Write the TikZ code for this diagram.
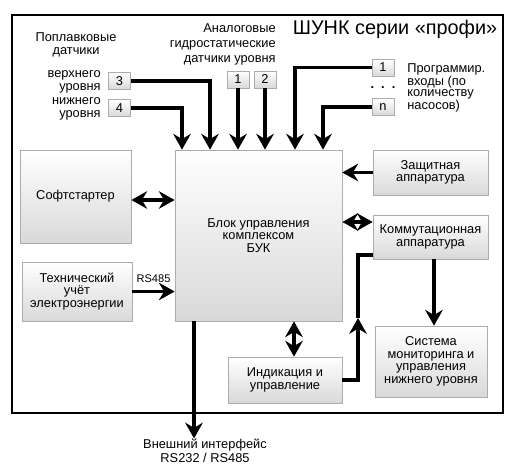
\documentclass[tikz,border=0pt]{standalone}
\usepackage{fontspec}
\setmainfont{Liberation Sans}
\usepackage{tikz}
\usetikzlibrary{arrows.meta, positioning}
\newcommand{\boxfont}{\fontsize{7.3}{7.2}\selectfont}
\newcommand{\lblfont}{\fontsize{7.3}{7.5}\selectfont}
\tikzset{
    block/.style={rectangle, draw=gray!65, top color=white, bottom color=gray!30, align=center, inner sep=1pt, font=\boxfont},
    numbox/.style={block, minimum width=0.44cm, minimum height=0.34cm},
    lbl/.style={align=center, inner sep=0pt, font=\lblfont},
    link/.style={line width=2pt},
    arrow/.style={link, -{Stealth[length=9pt,width=10pt,inset=3pt]}},
    twoway/.style={link, {Stealth[length=9pt,width=10pt,inset=3pt]}-{Stealth[length=9pt,width=10pt,inset=3pt]}}
}

\begin{document}
\begin{tikzpicture}[x=0.02cm, y=-0.02cm]
    \useasboundingbox (0,0) rectangle (514,473);
    \draw[line width=0.8pt] (12,15) rectangle (503,413);

    \node (title) [lbl, font=\fontsize{11.3}{11.3}\selectfont] at (395,29) {ШУНК серии «профи»};

    % blocks
    \node (buk) [block, minimum width=3.34cm, minimum height=3.42cm] at (258.5,235.5) {Блок управления\\комплексом\\БУК};
    \node (soft) [block, minimum width=2.22cm, minimum height=1.86cm] at (75.5,196.5) {Софтстартер};
    \node (uchet) [block, minimum width=2.2cm, minimum height=1.18cm] at (77,291.5) {Технический\\учёт\\электроэнергии};
    \node (zasch) [block, minimum width=2.3cm, minimum height=0.9cm] at (430.5,172.5) {Защитная\\аппаратура};
    \node (komm) [block, minimum width=2.3cm, minimum height=0.88cm] at (430.5,237) {Коммутационная\\аппаратура};
    \node (sist) [block, minimum width=2.24cm, minimum height=1.42cm] at (431,361.5) {Система\\мониторинга и\\управления\\нижнего уровня};
    \node (ind) [block, minimum width=2.28cm, minimum height=0.92cm] at (285,380) {Индикация и\\управление};

    % inputs
    \node (popl) [lbl] at (76,44.5) {Поплавковые\\датчики};
    \node (n3) [numbox] at (119.5,81) {3};
    \node (n4) [numbox] at (119.5,108) {4};
    \node (verh) [lbl, align=right, anchor=east] at (101,81.5) {верхнего\\уровня};
    \node (nizh) [lbl, align=right, anchor=east] at (101,108.5) {нижнего\\уровня};
    \node (analog) [lbl, align=right, anchor=east, font=\fontsize{7.3}{8.5}\selectfont] at (276,44.5) {Аналоговые\\гидростатические\\датчики уровня};
    \node (a1) [numbox] at (238,79.5) {1};
    \node (a2) [numbox] at (265,79.5) {2};
    \node (p1) [numbox] at (383,67.5) {1};
    \node (pn) [numbox] at (383,107) {n};
    \node (dots) [lbl, anchor=base, font=\boxfont\bfseries] at (383,89) {.\ \ .\ \ .};
    \node (prog) [lbl, align=left, anchor=west, font=\fontsize{7.3}{5.9}\selectfont] at (407,88) {Программир.\\входы (по\\количеству\\насосов)};
    \node (ext) [lbl, font=\fontsize{7.3}{6.4}\selectfont] at (205,450.5) {Внешний интерфейс\\RS232 / RS485};

    \draw [arrow] (n3.east) -| (buk.north -| 210,0);
    \draw [arrow] (n4.east) -| (buk.north -| 182,0);
    \draw [arrow] (a1.south) -- (a1.south |- buk.north);
    \draw [arrow] (a2.south) -- (a2.south |- buk.north);
    \draw [arrow] (p1.west) -| (buk.north -| 295,0);
    \draw [arrow] (pn.west) -| (buk.north -| 323,0);

    \draw [twoway] (soft.east |- 0,200) -- (buk.west |- 0,200);
    \draw [arrow] (uchet.east) -- node[above=1pt, font=\fontsize{6.3}{6.3}\selectfont] {RS485} (buk.west |- uchet.east);
    \draw [arrow] (zasch.west) -- (buk.east |- zasch.west);
    \draw [twoway] (komm.west |- 0,222) -- (buk.east |- 0,222);
    \draw [arrow] (komm.south -| 434,0) -- (sist.north -| 434,0);
    \draw [twoway] (buk.south -| 294,0) -- (ind.north -| 294,0);
    \coordinate (up) at (358,318);
    \draw [arrow] (ind.east) -| (up);
    \draw [link] (up) |- (komm.west |- 0,255);
    \draw [arrow] (buk.south -| 194,0) -- (194,0 |- ext.north);
\end{tikzpicture}
\end{document}
